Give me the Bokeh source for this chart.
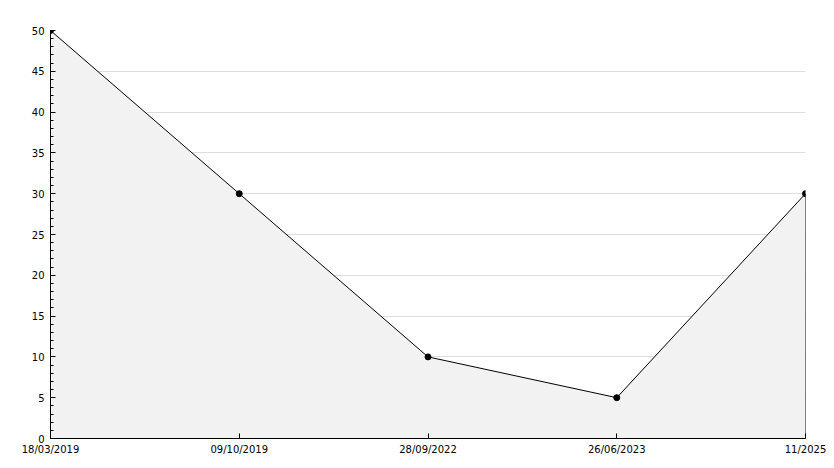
from bokeh.plotting import figure
from bokeh.models import FixedTicker, SingleIntervalTicker, Range1d
from bokeh.embed import file_html
from bokeh.resources import INLINE

labels = ["18/03/2019", "09/10/2019", "28/09/2022", "26/06/2023", "11/2025"]
values = [50, 30, 10, 5, 30]
xs = list(range(len(labels)))

p = figure(width=826, height=460, output_backend="svg", toolbar_location=None,
           x_range=Range1d(0, len(labels) - 1), y_range=Range1d(0, 50),
           min_border_left=50, min_border_right=21, min_border_top=30, min_border_bottom=22)
p.outline_line_color = None
p.background_fill_color = "white"
p.border_fill_color = "white"

p.varea(x=xs, y1=[0] * len(xs), y2=values, fill_color="#f2f2f2")
p.segment(x0=[xs[-1]], y0=[0], x1=[xs[-1]], y1=[values[-1]], line_color="black", line_width=1)
p.line(xs, values, line_color="black", line_width=1)
p.scatter(xs, values, size=6, marker="circle", fill_color="black", line_color="black")

p.xgrid.visible = False
p.ygrid.grid_line_color = "#dddddd"
p.ygrid.grid_line_width = 1

p.xaxis.ticker = FixedTicker(ticks=xs)
p.xaxis.major_label_overrides = {i: l for i, l in zip(xs, labels)}
p.yaxis.ticker = SingleIntervalTicker(interval=5, num_minor_ticks=5)

for ax in (p.xaxis[0], p.yaxis[0]):
    ax.axis_line_color = "black"
    ax.axis_line_width = 1
    ax.major_tick_line_color = "black"
    ax.major_tick_in = 5
    ax.major_tick_out = 0
    ax.minor_tick_in = 3
    ax.minor_tick_out = 0
    ax.major_label_text_font = "DejaVu Sans"
    ax.major_label_text_font_size = "10px"
    ax.major_label_text_color = "black"
p.xaxis.minor_tick_line_color = None
p.yaxis.minor_tick_line_color = "black"
p.yaxis.major_label_standoff = 6
p.xaxis.major_label_standoff = 5

open("out.html", "w").write(file_html(p, INLINE))
